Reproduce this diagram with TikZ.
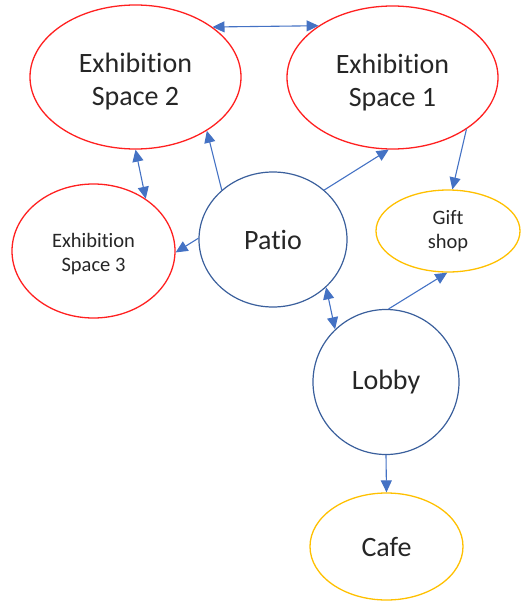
\documentclass[tikz,border=0pt]{standalone}
\usepackage{fontspec}
\setmainfont[Ligatures={NoCommon,NoContextual}]{Carlito}
\usetikzlibrary{shapes,arrows,arrows.meta}

\definecolor{roomred}{HTML}{FF2020}
\definecolor{hallblue}{HTML}{3A5F9C}
\definecolor{shopyellow}{HTML}{FFC000}
\definecolor{linkblue}{HTML}{4472C4}

\begin{document}
\begin{tikzpicture}[x=1pt,y=-1pt,
    >={Triangle[length=12pt,width=11pt]},
    room/.style={ellipse,
        draw = roomred,
        line width = 1.3pt,
        inner sep = 0pt},
    hall/.style={ellipse,
        draw = hallblue,
        line width = 1.2pt,
        inner sep = 0pt},
    shop/.style={ellipse,
        draw = shopyellow,
        line width = 1.3pt,
        inner sep = 0pt},
    bigtext/.style={align=center,
        font=\fontsize{28}{33}\selectfont,
        text=black!85},
    smalltext/.style={align=center,
        font=\fontsize{20.5}{24.5}\selectfont,
        text=black!85},
    link/.style={draw = linkblue,
        line width = 1.1pt}]

    \useasboundingbox (0,0) rectangle (521,602);

    % exhibition rooms
    \node[room,
          minimum width = 211pt,
          minimum height = 144pt] (ES2) at (135.5,77) {};
    \node[bigtext, yshift=-5pt] (ES2label) at (ES2.center) {Exhibition\\Space 2};

    \node[room,
          minimum width = 211pt,
          minimum height = 143pt] (ES1) at (392.5,77.5) {};
    \node[bigtext, yshift=-5pt] (ES1label) at (ES1.center) {Exhibition\\Space 1};

    \node[room,
          minimum width = 163pt,
          minimum height = 134pt] (ES3) at (93.5,251) {};
    \node[smalltext, yshift=-3pt] (ES3label) at (ES3.center) {Exhibition\\Space 3};

    % patio and lobby
    \node[hall,
          minimum width = 148pt,
          minimum height = 135pt] (Patio) at (273,239.5) {};
    \node[bigtext] (Patiolabel) at (Patio.center) {Patio};

    \node[hall,
          minimum width = 146pt,
          minimum height = 145pt] (Lobby) at (386,382) {};
    \node[bigtext] (Lobbylabel) at (Lobby.center) {Lobby};

    % shop and cafe
    \node[shop,
          minimum width = 144pt,
          minimum height = 82pt] (Gift) at (448,231) {};
    \node[smalltext] (Giftlabel) at (Gift.center) {Gift\\shop};

    \node[shop,
          minimum width = 153pt,
          minimum height = 107pt] (Cafe) at (386.5,546.5) {};
    \node[bigtext] (Cafelabel) at (Cafe.center) {Cafe};

    % connections
    \draw[link,<->] (ES2.33) -- (ES1.145);
    \draw[link,<->] (ES2.-90) -- (ES3.45);
    \draw[link,->] (Patio.136) -- (ES2.-37);
    \draw[link,->] (Patio.179) -- (ES3.-1);
    \draw[link,->] (Patio.44) -- (ES1.-93);
    \draw[link,->] (ES1.-35) -- (Gift.84);
    \draw[link,<->] (Patio.-42) -- (Lobby.134);
    \draw[link,->] (Lobby.88) -- (Gift.-91);
    \draw[link,->] (Lobby.-90) -- (Cafe.90);

\end{tikzpicture}
\end{document}
